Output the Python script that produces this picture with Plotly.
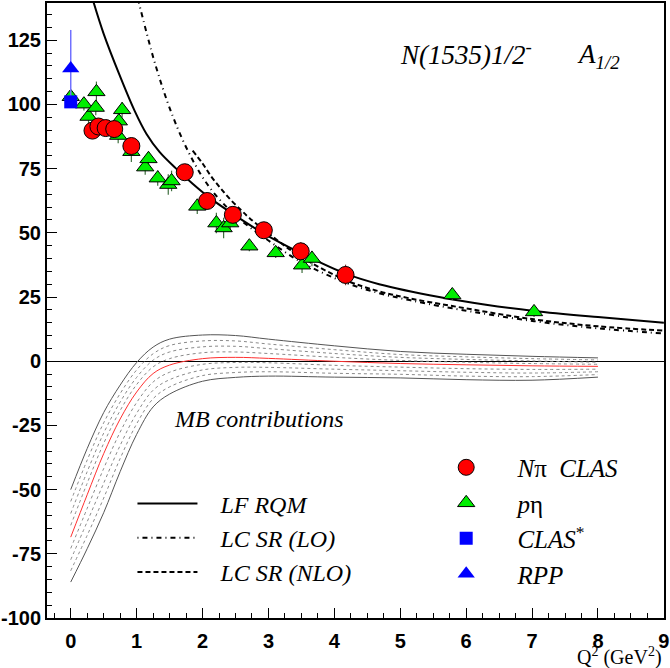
import plotly.graph_objects as go

# --- data ---
# N pi CLAS (red circles)
npi_q2 = [0.33, 0.42, 0.53, 0.66, 0.92, 1.73, 2.07, 2.46, 2.93, 3.49, 4.17]
npi_a = [89.8, 91.4, 90.8, 90.4, 83.8, 73.6, 62.4, 57.0, 51.0, 42.8, 33.6]
npi_err = [2.5, 2.5, 2.5, 2.5, 3.0, 3.0, 3.0, 3.0, 3.0, 3.5, 4.0]

# p eta (green triangles)
peta_q2 = [0.0, 0.2, 0.27, 0.38, 0.39, 0.72, 0.73, 0.78, 0.92, 1.13, 1.18, 1.32,
           1.48, 1.53, 1.92, 2.21, 2.32, 2.42, 2.71, 3.11, 3.51, 3.66, 5.79, 7.03]
peta_a = [103.0, 100.1, 95.3, 98.8, 104.9, 87.9, 93.5, 97.9, 81.6, 75.6, 78.8, 71.3,
          68.8, 70.2, 60.3, 53.8, 51.9, 53.8, 44.8, 42.2, 37.4, 40.0, 25.8, 19.2]
peta_err = [2.5, 2.5, 3.0, 3.0, 4.0, 3.0, 3.0, 3.0, 4.0, 3.0, 3.0, 3.0,
            4.0, 4.0, 3.0, 4.0, 4.0, 3.0, 2.0, 2.0, 3.0, 3.0, 2.0, 2.0]

# CLAS* (blue square) and RPP (blue triangle)
clas_q2 = [0.0]
clas_a = [101.0]
rpp_q2 = [0.0]
rpp_a = [114.0]
rpp_err = [15.0]

# LF RQM (solid)
rqm_q2 = [0.3, 0.35, 0.5, 0.74, 0.97, 1.15, 1.35, 1.6, 1.85, 2.11, 2.51, 2.91,
          3.5, 4.18, 4.68, 5.59, 6.3, 7.03, 8.0, 9.0]
rqm_a = [144.0, 139.5, 127.5, 111.5, 97.5, 88.5, 81.4, 75.0, 69.1, 63.6, 56.5, 50.0,
         42.0, 34.0, 30.0, 25.0, 22.0, 19.6, 17.2, 15.0]

# LC SR (LO) (dash-dot)
lo_q2 = [1.0, 1.035, 1.15, 1.25, 1.35, 1.46, 1.55, 1.65, 1.78, 1.9, 2.03, 2.18,
         2.36, 2.51, 2.71, 3.0, 3.47, 4.18, 4.68, 5.14, 5.79, 7.03, 8.0, 9.0]
lo_a = [143.0, 139.5, 128.0, 118.5, 110.0, 101.5, 95.3, 89.0, 81.8, 76.0, 70.5, 65.3,
        60.2, 56.5, 52.3, 47.0, 39.0, 30.5, 26.5, 23.8, 20.6, 15.6, 12.8, 10.8]

# LC SR (NLO) (dashed)
nlo_q2 = [1.85, 2.0, 2.13, 2.26, 2.41, 2.59, 2.71, 3.0, 3.47, 4.18, 4.68, 5.14,
          5.79, 7.03, 8.0, 9.0]
nlo_a = [82.0, 77.0, 72.0, 67.8, 63.3, 58.7, 55.8, 49.8, 41.0, 31.5, 27.2, 24.5,
         21.5, 16.3, 13.6, 11.9]

# MB contributions band
mb_q2 = [0, 0.25, 0.5, 0.75, 1.0, 1.25, 1.5, 2.0, 2.5, 3.0, 4.0, 5.0, 6.0, 7.0, 8.0]
mb_upper = [-50.0, -34.0, -20.0, -9.3, -0.5, 5.5, 8.6, 10.2, 10.0, 8.6, 6.0, 3.8, 2.7, 1.9, 1.3]
mb_dot_u1 = [-54.6, -38.5, -24.0, -12.6, -3.4, 2.9, 6.1, 7.9, 7.9, 6.7, 4.5, 2.6, 1.7, 1.0, 0.5]
mb_dot_u2 = [-59.3, -43.0, -28.0, -15.9, -6.3, 0.4, 3.6, 5.6, 5.8, 4.9, 3.0, 1.5, 0.7, 0.1, -0.4]
mb_dot_u3 = [-63.9, -47.5, -32.0, -19.2, -9.1, -2.2, 1.0, 3.3, 3.6, 3.0, 1.5, 0.3, -0.4, -0.9, -1.2]
mb_central = [-68.5, -52.0, -36.0, -22.5, -12.0, -4.8, -1.5, 1.0, 1.5, 1.1, 0.0, -0.9, -1.4, -1.8, -2.0]
mb_dot_l1 = [-72.9, -57.3, -41.8, -27.6, -16.1, -8.1, -4.3, -1.2, -0.5, -0.6, -1.6, -2.3, -2.9, -3.2, -3.1]
mb_dot_l2 = [-77.3, -62.5, -47.5, -32.8, -20.3, -11.3, -7.2, -3.4, -2.4, -2.4, -3.1, -3.7, -4.3, -4.6, -4.1]
mb_dot_l3 = [-81.6, -67.8, -53.3, -37.9, -24.4, -14.6, -10.0, -5.6, -4.4, -4.1, -4.7, -5.1, -5.8, -6.0, -5.2]
mb_lower = [-86.0, -73.0, -59.0, -43.0, -28.5, -17.8, -12.8, -7.8, -6.3, -5.8, -6.2, -6.5, -7.2, -7.4, -6.2]

x_ticks = [0, 1, 2, 3, 4, 5, 6, 7, 8, 9]
y_ticks = [-100, -75, -50, -25, 0, 25, 50, 75, 100, 125]

SERIF = "Liberation Serif"
SANS = "Liberation Sans"
PAD = "\u00a0"

fig = go.Figure()

# band: dotted inner lines, outer lines, red central line
for ys in [mb_dot_u1, mb_dot_u2, mb_dot_u3, mb_dot_l1, mb_dot_l2, mb_dot_l3]:
    fig.add_trace(go.Scatter(x=mb_q2, y=ys, mode="lines", line_shape="spline",
                             line=dict(color="#8a8a8a", width=1, dash="dot"),
                             showlegend=False, hoverinfo="skip"))
for ys in [mb_upper, mb_lower]:
    fig.add_trace(go.Scatter(x=mb_q2, y=ys, mode="lines", line_shape="spline",
                             line=dict(color="#555555", width=1),
                             showlegend=False, hoverinfo="skip"))
fig.add_trace(go.Scatter(x=mb_q2, y=mb_central, mode="lines", line_shape="spline",
                         line=dict(color="#ff3030", width=1),
                         showlegend=False, hoverinfo="skip"))

# theory curves (legend 1)
fig.add_trace(go.Scatter(x=rqm_q2, y=rqm_a, mode="lines", line_shape="spline",
                         name=PAD * 3 + "LF RQM", legend="legend",
                         line=dict(color="black", width=2)))
fig.add_trace(go.Scatter(x=lo_q2, y=lo_a, mode="lines", line_shape="spline",
                         name=PAD * 3 + "LC SR (LO)", legend="legend",
                         line=dict(color="black", width=2, dash="1px,4px,5px,4px")))
fig.add_trace(go.Scatter(x=nlo_q2, y=nlo_a, mode="lines", line_shape="spline",
                         name=PAD * 3 + "LC SR (NLO)", legend="legend",
                         line=dict(color="black", width=2, dash="5px,3px")))

# data (legend 2)
fig.add_trace(go.Scatter(x=peta_q2, y=peta_a, mode="markers",
                         name=PAD * 5 + "<i>p</i>η",
                         legend="legend2", legendrank=2,
                         error_y=dict(type="data", array=peta_err, color="#3f6f3f",
                                      thickness=1.2, width=0),
                         marker=dict(symbol="triangle-up", size=15, color="#00ee00",
                                     line=dict(color="black", width=1))))
fig.add_trace(go.Scatter(x=npi_q2, y=npi_a, mode="markers",
                         name=PAD * 5 + "<i>N</i>π  <i>CLAS</i>",
                         legend="legend2", legendrank=1,
                         error_y=dict(type="data", array=npi_err, color="#7a3030",
                                      thickness=1.2, width=0),
                         marker=dict(symbol="circle", size=17, color="#ff0000",
                                     line=dict(color="black", width=1))))
fig.add_trace(go.Scatter(x=rpp_q2, y=rpp_a, mode="markers",
                         name=PAD * 5 + "<i>RPP</i>",
                         legend="legend2", legendrank=4,
                         error_y=dict(type="data", array=rpp_err, color="#7070ff",
                                      thickness=1.5, width=0),
                         marker=dict(symbol="triangle-up", size=15, color="#0000ff")))
fig.add_trace(go.Scatter(x=clas_q2, y=clas_a, mode="markers",
                         name=PAD * 5 + "<i>CLAS</i><sup>*</sup>",
                         legend="legend2", legendrank=3,
                         marker=dict(symbol="square", size=13, color="#0000ff")))

axis_common = dict(showgrid=False, showline=True, linecolor="black", linewidth=2,
                   mirror=True, ticks="inside", tickcolor="black",
                   ticklabeloverflow="allow",
                   tickfont=dict(family=SANS, size=20, color="black", weight="bold"))

fig.update_layout(
    width=670, height=668,
    margin=dict(l=47, r=5, t=1, b=50),
    paper_bgcolor="white", plot_bgcolor="white",
    font=dict(family=SERIF, color="black"),
    xaxis=dict(range=[-0.36, 9.002], tickmode="array", tickvals=x_ticks,
               ticktext=[str(v) for v in x_ticks], ticklen=10, tickwidth=1,
               minor=dict(dtick=0.25, tick0=0, ticks="inside", ticklen=5,
                          tickcolor="black"),
               zeroline=False, ticklabelstandoff=4, **axis_common),
    yaxis=dict(range=[-100, 139.5], tickmode="array", tickvals=y_ticks,
               ticktext=[str(v) for v in y_ticks], ticklen=10, tickwidth=1,
               minor=dict(dtick=5, tick0=0, ticks="inside", ticklen=5,
                          tickcolor="black"),
               zeroline=True, zerolinecolor="black", zerolinewidth=1,
               **axis_common),
    legend=dict(x=0.1385, y=0.222, xanchor="left", yanchor="top",
                bgcolor="rgba(0,0,0,0)", itemwidth=60,
                font=dict(family=SERIF, size=24, style="italic")),
    legend2=dict(x=0.647, y=0.282, xanchor="left", yanchor="top",
                 bgcolor="rgba(0,0,0,0)",
                 font=dict(family=SERIF, size=25)),
    showlegend=True,
)

fig.add_annotation(x=4.97, y=120, xref="x", yref="y", xanchor="left", yanchor="middle",
                   text="<i>N(1535)1/2</i><sup>-</sup>", showarrow=False,
                   font=dict(family=SERIF, size=27))
fig.add_annotation(x=7.65, y=119, xref="x", yref="y", xanchor="left", yanchor="middle",
                   text="<i>A</i><sub><i>1/2</i></sub>", showarrow=False,
                   font=dict(family=SERIF, size=27))
fig.add_annotation(x=1.53, y=-22.5, xref="x", yref="y", xanchor="left", yanchor="middle",
                   text="<i>MB contributions</i>", showarrow=False,
                   font=dict(family=SERIF, size=24))
fig.add_annotation(x=1.0, y=-0.062, xref="paper", yref="paper", xanchor="right",
                   yanchor="middle", text="Q<sup>2</sup> (GeV<sup>2</sup>)",
                   showarrow=False, font=dict(family=SERIF, size=20))

fig.write_html("out.html", config={"displayModeBar": False},
               post_script="document.body.style.margin='0';")
